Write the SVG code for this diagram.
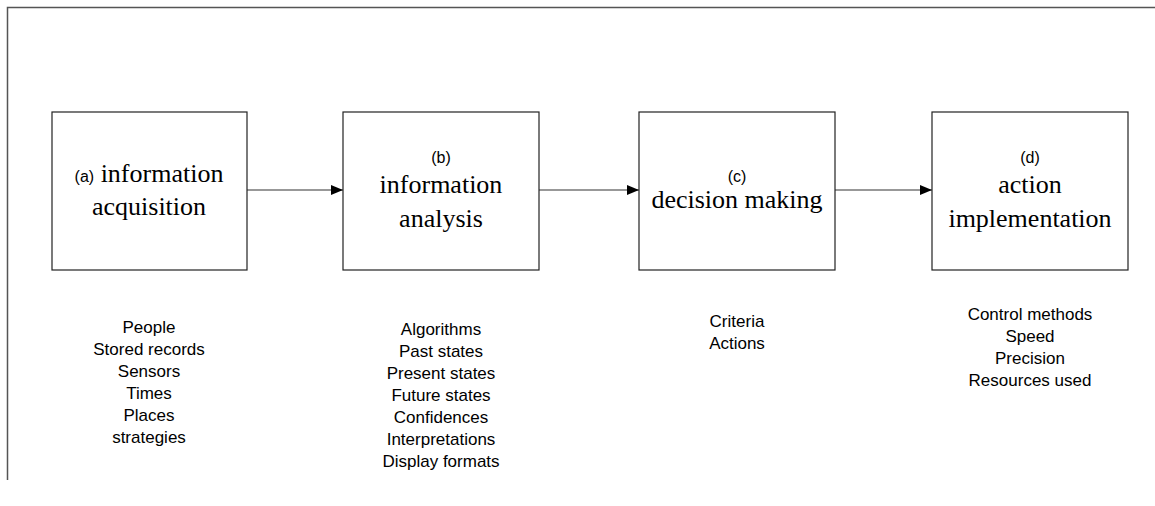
<svg xmlns="http://www.w3.org/2000/svg" width="1155" height="506" viewBox="0 0 1155 506">
  <style>
    .frame { fill: none; stroke: #555; stroke-width: 1.5; }
    .box { fill: #fff; stroke: #222; stroke-width: 1.2; }
    .title { font-family: "Liberation Serif", "Times New Roman", serif; font-size: 26px; fill: #000; text-anchor: middle; }
    .tag { font-family: "Liberation Sans", Arial, sans-serif; font-size: 16px; fill: #000; text-anchor: middle; }
    .list { font-family: "Liberation Sans", Arial, sans-serif; font-size: 17px; fill: #000; text-anchor: middle; }
    .conn { stroke: #333; stroke-width: 1.2; fill: none; }
  </style>
  <defs>
    <marker id="arrow" markerWidth="12" markerHeight="10" refX="12" refY="5" orient="auto" markerUnits="userSpaceOnUse">
      <path d="M0,0 L12,5 L0,10 Z" fill="#000"/>
    </marker>
  </defs>
  <rect width="1155" height="506" fill="#fff"/>

  <!-- outer frame (top and left edges) -->
  <path class="frame" d="M7.5,480 L7.5,7.5 L1155,7.5"/>

  <!-- connectors -->
  <g id="connectors">
    <line class="conn" x1="247" y1="190" x2="343" y2="190" marker-end="url(#arrow)"/>
    <line class="conn" x1="539" y1="190" x2="639" y2="190" marker-end="url(#arrow)"/>
    <line class="conn" x1="835" y1="190" x2="932" y2="190" marker-end="url(#arrow)"/>
  </g>

  <g id="node-a">
    <rect class="box" x="52" y="112" width="195" height="158"/>
    <text class="title" x="149" y="182"><tspan style="font-family:'Liberation Sans', Arial, sans-serif; font-size:16px">(a)</tspan> information</text>
    <text class="title" x="149" y="215">acquisition</text>
  </g>

  <g id="node-b">
    <rect class="box" x="343" y="112" width="196" height="158"/>
    <text class="tag" x="441" y="163">(b)</text>
    <text class="title" x="441" y="193">information</text>
    <text class="title" x="441" y="227">analysis</text>
  </g>

  <g id="node-c">
    <rect class="box" x="639" y="112" width="196" height="158"/>
    <text class="tag" x="737" y="182">(c)</text>
    <text class="title" x="737" y="208">decision making</text>
  </g>

  <g id="node-d">
    <rect class="box" x="932" y="112" width="196" height="158"/>
    <text class="tag" x="1030" y="163">(d)</text>
    <text class="title" x="1030" y="193">action</text>
    <text class="title" x="1030" y="227">implementation</text>
  </g>

  <g id="list-a">
    <text class="list" x="149" y="333">People</text>
    <text class="list" x="149" y="355">Stored records</text>
    <text class="list" x="149" y="377">Sensors</text>
    <text class="list" x="149" y="399">Times</text>
    <text class="list" x="149" y="421">Places</text>
    <text class="list" x="149" y="443">strategies</text>
  </g>

  <g id="list-b">
    <text class="list" x="441" y="335">Algorithms</text>
    <text class="list" x="441" y="357">Past states</text>
    <text class="list" x="441" y="379">Present states</text>
    <text class="list" x="441" y="401">Future states</text>
    <text class="list" x="441" y="423">Confidences</text>
    <text class="list" x="441" y="445">Interpretations</text>
    <text class="list" x="441" y="467">Display formats</text>
  </g>

  <g id="list-c">
    <text class="list" x="737" y="327">Criteria</text>
    <text class="list" x="737" y="349">Actions</text>
  </g>

  <g id="list-d">
    <text class="list" x="1030" y="320">Control methods</text>
    <text class="list" x="1030" y="342">Speed</text>
    <text class="list" x="1030" y="364">Precision</text>
    <text class="list" x="1030" y="386">Resources used</text>
  </g>
</svg>
